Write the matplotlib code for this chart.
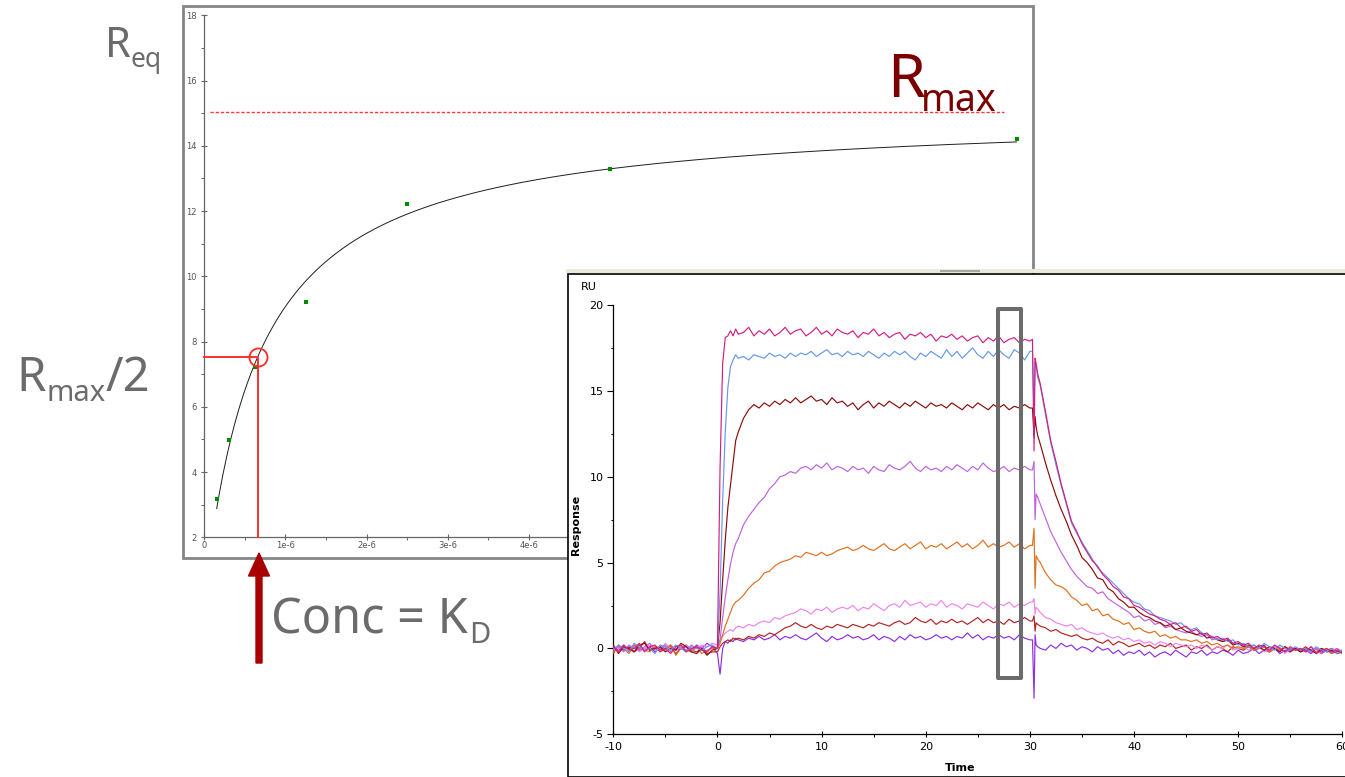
import numpy as np
import matplotlib
matplotlib.use("Agg")
import matplotlib.pyplot as plt
from matplotlib.patches import Rectangle, FancyArrow
from matplotlib.ticker import MultipleLocator, FixedLocator, FixedFormatter

plt.rcParams["axes.unicode_minus"] = False

# ---------------- steady-state affinity data ----------------
conc_M = [0.15625e-6, 0.3125e-6, 0.625e-6, 1.25e-6, 2.5e-6, 5.0e-6, 10.0e-6]
req_RU = [3.18, 4.99, 7.22, 9.20, 12.22, 13.30, 14.21]
r_max = 15.05
k_d = 0.66e-6
aff_xticks = [0, 1e-6, 2e-6, 3e-6, 4e-6, 5e-6, 6e-6, 7e-6, 8e-6, 9e-6, 10e-6]
aff_xlabels = ["0", "1e-6", "2e-6", "3e-6", "4e-6", "5e-6", "6e-6", "7e-6", "8e-6", "9e-6", "1e-5"]

# ---------------- sensorgram data ----------------
base_t = np.arange(-10, 0, 0.5)
assoc_t = np.concatenate([[0, 0.25, 0.5, 0.75, 1, 1.25, 1.5, 1.75, 2], np.arange(2.5, 30.01, 0.5)])
dissoc_t = np.concatenate([[30.25, 30.4, 30.5, 30.6, 30.75], np.arange(31, 60.01, 0.5)])
time_s = np.concatenate([base_t, assoc_t, dissoc_t])

resp_c8 = [
    0.1, -0.2, 0.2, -0.1, 0.0, 0.3, -0.2, 0.1, 0.2, -0.1,
    0.0, -0.3, 0.1, 0.2, -0.2, 0.0, 0.1, -0.1, -0.2, 0.1,
    0.0, 10.5, 16.6, 18.1, 18.2, 18.5, 18.2, 18.6, 18.3,
    18.4, 18.7, 18.2, 18.5, 18.3, 18.6, 18.2, 18.4, 18.7, 18.3,
    18.5, 18.6, 18.2, 18.4, 18.7, 18.3, 18.5, 18.2, 18.6, 18.4,
    18.3, 18.5, 18.1, 18.4, 18.3, 18.6, 18.2, 18.4, 18.1, 18.3,
    18.4, 18.0, 18.3, 18.2, 18.4, 18.1, 18.3, 17.9, 18.2, 18.1,
    18.3, 18.0, 18.2, 17.9, 18.1, 18.2, 17.8, 18.1, 17.9, 18.2,
    17.8, 18.0, 18.1, 17.8, 18.0, 17.9,
    18.0, 11.5, 16.9, 16.6, 16.0,
    15.4, 13.8, 12.1, 10.9, 9.6, 8.5, 7.4, 6.8, 6.1, 5.6,
    5.1, 4.8, 4.3, 4.0, 3.6, 3.4, 3.0, 2.9, 2.5, 2.4,
    2.2, 2.0, 1.9, 1.7, 1.6, 1.4, 1.5, 1.2, 1.3, 1.0,
    1.1, 0.8, 0.9, 0.6, 0.7, 0.5, 0.6, 0.3, 0.4, 0.2,
    0.3, 0.0, 0.2, 0.1, -0.1, 0.2, 0.0, -0.2, 0.1, -0.1,
    0.0, -0.2, 0.1, -0.3, -0.1, 0.0, -0.2, -0.1, -0.3,
]
resp_c7 = [
    -0.1, 0.2, 0.0, -0.2, 0.3, 0.1, -0.1, 0.0, -0.3, 0.2,
    0.1, -0.1, 0.2, 0.0, -0.2, 0.1, 0.0, -0.1, 0.1, 0.2,
    0.0, 3.2, 8.6, 12.6, 15.2, 16.4, 16.8, 17.1, 16.9,
    17.0, 16.8, 17.1, 17.0, 16.9, 17.2, 17.0, 17.1, 16.9, 17.2,
    17.0, 17.2, 17.1, 17.3, 17.0, 17.2, 17.4, 17.1, 17.2, 17.0,
    17.3, 17.1, 17.2, 17.0, 17.3, 17.1, 16.9, 17.2, 17.0, 17.3,
    17.1, 17.3, 17.0, 16.8, 17.2, 17.0, 17.3, 17.1, 16.9, 17.4,
    17.0, 17.3, 16.9, 17.2, 17.5, 17.1, 16.9, 17.3, 17.0, 17.4,
    17.1, 16.9, 17.4, 17.2, 16.8, 17.3,
    17.3, 13.5, 16.7, 16.4, 15.8,
    15.3, 13.6, 12.0, 10.7, 9.5, 8.4, 7.3, 6.7, 6.2, 5.7,
    5.2, 4.7, 4.4, 4.1, 3.8, 3.5, 3.2, 2.9, 2.7, 2.6,
    2.3, 2.2, 1.9, 1.8, 1.7, 1.6, 1.4, 1.5, 1.2, 1.1,
    1.2, 0.9, 0.8, 0.7, 0.5, 0.6, 0.4, 0.5, 0.2, 0.3,
    0.1, 0.2, 0.0, 0.3, 0.1, -0.1, 0.2, 0.0, -0.1, 0.1,
    -0.1, 0.0, -0.2, 0.1, -0.1, -0.2, 0.0, -0.3, -0.1,
]
resp_c6 = [
    0.2, -0.3, 0.1, 0.0, -0.2, 0.2, 0.3, -0.1, 0.0, 0.1,
    -0.2, 0.0, -0.1, 0.3, 0.1, -0.2, -0.3, 0.0, -0.4, -0.1,
    0.0, 1.5, 4.0, 6.3, 8.2, 9.5, 10.8, 12.1, 12.6,
    13.4, 13.9, 14.2, 14.0, 14.3, 14.1, 14.4, 14.2, 14.5, 14.3,
    14.6, 14.3, 14.5, 14.7, 14.4, 14.5, 14.2, 14.6, 14.3, 14.4,
    14.1, 14.3, 13.9, 14.2, 14.4, 14.0, 14.3, 14.1, 14.4, 14.2,
    14.0, 14.3, 14.1, 14.4, 14.2, 14.0, 14.3, 14.1, 14.2, 14.0,
    14.3, 14.1, 13.9, 14.2, 14.0, 14.3, 14.1, 13.9, 14.2, 14.0,
    14.2, 13.9, 14.1, 14.0, 14.2, 14.0,
    14.0, 12.3, 13.5, 12.9, 12.4,
    11.9, 10.8, 9.8, 8.9, 8.1, 7.4, 6.6, 6.0, 5.3, 5.0,
    4.6, 4.1, 4.0, 3.5, 3.3, 2.9, 2.7, 2.4, 2.4, 2.1,
    1.9, 1.8, 1.6, 1.5, 1.3, 1.4, 1.1, 1.2, 1.0, 0.9,
    0.8, 0.9, 0.6, 0.7, 0.5, 0.4, 0.5, 0.2, 0.3, 0.1,
    0.2, 0.0, 0.1, -0.1, 0.1, 0.0, -0.2, 0.1, -0.1, 0.0,
    -0.2, 0.0, -0.1, -0.3, 0.0, -0.2, -0.1, -0.3, -0.2,
]
resp_c5 = [
    0.0, 0.1, -0.2, 0.2, 0.0, -0.1, 0.1, 0.3, -0.1, 0.0,
    0.2, -0.2, 0.0, 0.1, -0.1, 0.2, 0.0, 0.1, -0.2, 0.1,
    0.0, 0.5, 1.8, 3.0, 4.0, 4.9, 5.6, 6.1, 6.4,
    7.2, 7.7, 8.1, 8.5, 8.8, 9.3, 9.6, 10.0, 10.1, 10.3,
    10.2, 10.5, 10.6, 10.4, 10.7, 10.5, 10.8, 10.4, 10.6, 10.5,
    10.3, 10.6, 10.4, 10.5, 10.2, 10.6, 10.4, 10.3, 10.7, 10.5,
    10.4, 10.6, 10.9, 10.5, 10.3, 10.6, 10.4, 10.5, 10.3, 10.6,
    10.4, 10.7, 10.5, 10.3, 10.6, 10.4, 10.8, 10.5, 10.3, 10.4,
    10.6, 10.3, 10.5, 10.4, 10.6, 10.4,
    10.4, 10.9, 7.5, 9.0, 8.8,
    8.4, 7.6, 6.8, 6.2, 5.6, 5.1, 4.6, 4.2, 3.9, 3.6,
    3.5, 3.2, 3.3, 2.9, 2.7, 2.5, 2.3, 2.1, 1.8, 1.9,
    1.6, 1.7, 1.4, 1.5, 1.2, 1.3, 1.1, 1.0, 0.9, 1.0,
    0.8, 0.7, 0.8, 0.5, 0.6, 0.4, 0.5, 0.3, 0.3, 0.2,
    0.1, 0.2, 0.0, 0.1, -0.1, 0.1, 0.0, -0.2, 0.0, -0.1,
    0.0, -0.2, -0.1, 0.0, -0.3, -0.1, -0.2, 0.0, -0.2,
]
resp_c4 = [
    -0.2, 0.1, 0.0, -0.3, 0.2, 0.0, -0.1, -0.2, 0.1, 0.0,
    -0.1, 0.2, -0.4, 0.0, -0.1, -0.2, 0.1, -0.3, -0.1, 0.0,
    0.0, 0.3, 0.8, 1.3, 1.7, 2.1, 2.5, 2.7, 2.8,
    3.1, 3.5, 3.8, 4.0, 4.4, 4.5, 4.8, 5.0, 5.1, 5.2,
    5.4, 5.3, 5.6, 5.5, 5.4, 5.6, 5.4, 5.5, 5.7, 5.8,
    5.9, 5.7, 5.8, 6.0, 5.8, 5.7, 5.9, 6.1, 5.8, 5.7,
    5.9, 6.1, 5.8, 6.0, 6.2, 5.8, 6.0, 5.9, 6.1, 5.8,
    6.0, 6.2, 5.9, 6.1, 5.8, 6.0, 6.3, 5.9, 6.1, 5.9,
    6.0, 6.2, 5.9, 6.1, 5.8, 6.0,
    6.0, 7.0, 3.5, 5.4, 5.2,
    5.0, 4.4, 4.0, 3.7, 3.6, 3.4, 3.0, 2.8, 2.5, 2.6,
    2.2, 2.3, 1.9, 2.0, 1.7, 1.6, 1.4, 1.5, 1.1, 1.2,
    1.0, 0.9, 1.0, 0.7, 0.8, 0.6, 0.7, 0.5, 0.5, 0.4,
    0.5, 0.3, 0.4, 0.2, 0.3, 0.1, 0.2, 0.0, 0.1, 0.0,
    0.1, -0.1, 0.0, 0.1, -0.2, 0.0, -0.1, 0.1, -0.1, 0.0,
    -0.2, 0.0, -0.1, -0.2, 0.0, -0.1, -0.3, -0.1, -0.2,
]
resp_c3 = [
    0.1, 0.0, 0.2, -0.1, 0.1, -0.2, 0.0, 0.2, 0.1, -0.1,
    0.3, 0.0, -0.1, 0.1, 0.2, -0.1, 0.0, 0.2, 0.1, 0.3,
    0.2, 0.5, 0.7, 0.9, 1.0, 1.1, 1.0, 1.2, 1.3,
    1.2, 1.4, 1.3, 1.5, 1.6, 1.5, 1.8, 1.7, 1.9, 2.0,
    2.1, 2.3, 2.2, 2.0, 2.3, 2.2, 2.4, 2.1, 2.3, 2.4,
    2.3, 2.5, 2.2, 2.4, 2.3, 2.6, 2.4, 2.2, 2.5, 2.6,
    2.4, 2.8, 2.5, 2.6, 2.7, 2.4, 2.6, 2.5, 2.8, 2.4,
    2.6, 2.5, 2.3, 2.6, 2.5, 2.4, 2.7, 2.5, 2.3, 2.6,
    2.5, 2.7, 2.4, 2.6, 2.5, 2.7,
    2.7, 2.9, 2.0, 2.4, 2.3,
    2.1, 1.8, 1.7, 1.5, 1.4, 1.3, 1.4, 1.1, 1.2, 1.0,
    0.9, 0.8, 0.9, 0.7, 0.6, 0.7, 0.5, 0.6, 0.4, 0.5,
    0.3, 0.4, 0.2, 0.4, 0.3, 0.1, 0.3, 0.2, 0.1, 0.2,
    0.0, 0.2, 0.1, -0.1, 0.1, 0.0, 0.2, -0.1, 0.0, 0.1,
    -0.1, 0.0, 0.1, -0.2, 0.0, -0.1, 0.1, -0.3, 0.0, -0.1,
    0.0, -0.2, 0.1, -0.1, 0.0, -0.2, -0.1, 0.0, -0.2,
]
resp_c2 = [
    -0.3, 0.2, -0.1, 0.1, -0.2, 0.0, 0.4, -0.1, 0.1, -0.2,
    0.0, 0.1, -0.3, 0.0, 0.2, -0.1, -0.2, 0.0, -0.3, -0.2,
    -0.2, 0.1, 0.3, 0.4, 0.5, 0.4, 0.6, 0.5, 0.6,
    0.5, 0.7, 0.6, 0.8, 0.7, 0.9, 0.8, 1.0, 1.2, 1.3,
    1.5, 1.3, 1.2, 1.4, 1.2, 1.1, 1.3, 1.2, 1.4, 1.3,
    1.2, 1.4, 1.3, 1.2, 1.4, 1.3, 1.5, 1.4, 1.3, 1.5,
    1.6, 1.4, 1.5, 1.8, 1.6, 1.5, 1.7, 1.4, 1.6, 1.5,
    1.7, 1.5, 1.6, 1.4, 1.6, 1.8, 1.5, 1.7, 1.5, 1.6,
    1.4, 1.7, 1.5, 1.6, 1.8, 1.6,
    1.6, 1.9, 1.0, 1.5, 1.4,
    1.3, 1.2, 1.0, 1.1, 0.9, 0.8, 0.7, 0.8, 0.6, 0.5,
    0.6, 0.4, 0.3, 0.5, 0.2, 0.4, 0.3, 0.1, 0.2, 0.3,
    0.1, 0.2, 0.0, 0.2, 0.1, 0.3, 0.0, 0.1, 0.2, -0.1,
    0.1, 0.0, 0.2, -0.1, 0.1, 0.0, -0.2, 0.1, 0.0, -0.1,
    0.1, -0.1, 0.0, 0.2, -0.2, 0.0, -0.1, 0.1, -0.2, 0.0,
    -0.1, 0.1, -0.2, 0.0, -0.3, -0.1, 0.0, -0.2, -0.1,
]
resp_c1 = [
    0.0, -0.1, 0.1, 0.0, 0.2, -0.1, 0.0, 0.1, -0.2, 0.1,
    0.0, 0.2, -0.1, 0.0, 0.1, -0.1, 0.2, 0.0, 0.3, 0.1,
    -0.3, -1.5, 0.0, 0.4, 0.3, 0.5, 0.4, 0.6, 0.5,
    0.4, 0.6, 0.5, 0.7, 0.5, 0.6, 0.8, 0.5, 0.7, 0.6,
    0.8, 0.6, 0.5, 0.7, 0.9, 0.6, 0.4, 0.7, 0.5, 0.6,
    0.8, 0.6, 0.7, 0.5, 0.6, 0.8, 0.5, 0.7, 0.6, 0.4,
    0.7, 0.5, 0.8, 0.6, 0.7, 0.5, 0.6, 0.8, 0.6, 0.7,
    0.5, 0.7, 0.6, 0.9, 0.6, 0.8, 0.5, 0.7, 0.6, 0.8,
    0.6, 0.7, 0.5, 0.8, 0.6, 0.5,
    0.5, -2.9, 0.8, 0.2, 0.1,
    0.0, -0.1, 0.2, 0.0, 0.3, 0.1, 0.2, -0.1, 0.1, 0.0,
    -0.2, 0.1, -0.1, 0.0, -0.3, -0.1, -0.4, -0.2, -0.3, -0.1,
    -0.4, -0.2, -0.5, -0.3, -0.2, -0.4, -0.1, -0.3, -0.5, -0.2,
    -0.3, -0.1, -0.4, -0.2, -0.3, -0.1, -0.2, -0.4, -0.1, -0.3,
    -0.2, 0.0, -0.3, -0.1, -0.2, 0.0, -0.3, -0.1, -0.2, 0.0,
    -0.2, -0.1, -0.3, 0.0, -0.2, -0.1, -0.3, -0.1, -0.2,
]
sensor_series = [resp_c1, resp_c2, resp_c3, resp_c4, resp_c5, resp_c6, resp_c7, resp_c8]
sensor_colors = ["#8e2ee6", "#b42222", "#ee84ee", "#e0701e", "#c062de", "#8c0c0c", "#6797ec", "#d21f82"]

# ---------------- figure ----------------
W, H = 1345, 777
fig = plt.figure(figsize=(W / 100, H / 100), dpi=100)
fig.patch.set_facecolor("white")


def fx(x):
    return x / W


def fy(y):
    return 1 - y / H


# frame around the affinity plot
fig.add_artist(Rectangle((fx(183), fy(558)), (1033 - 183) / W, (558 - 6) / H,
                         transform=fig.transFigure, fill=False, ec="#858585",
                         lw=2.0, zorder=0.5))

# ---- affinity (Req vs concentration) plot ----
ax1 = fig.add_axes([fx(204), fy(537.3), 824.7 / W, (537.3 - 15.3) / H], zorder=1)
ax1.patch.set_alpha(0)
ax1.set_xlim(0, 10.15e-6)
ax1.set_ylim(2, 18)
for s in ("top", "right"):
    ax1.spines[s].set_visible(False)
for s in ("left", "bottom"):
    ax1.spines[s].set_color("#666666")
    ax1.spines[s].set_linewidth(0.9)
ax1.yaxis.set_major_locator(FixedLocator(list(range(2, 19, 2))))
ax1.yaxis.set_minor_locator(MultipleLocator(1))
ax1.xaxis.set_major_locator(FixedLocator(aff_xticks))
ax1.xaxis.set_major_formatter(FixedFormatter(aff_xlabels))
ax1.xaxis.set_minor_locator(MultipleLocator(0.5e-6))
ax1.tick_params(which="major", direction="inout", length=4.5, width=0.8,
                color="#666666", labelsize=6, labelcolor="#555555")
ax1.tick_params(which="minor", direction="out", length=2, width=0.7, color="#666666")
ax1.tick_params(axis="y", which="major", pad=3)
ax1.tick_params(axis="x", which="major", pad=0.5)

c_fit = np.linspace(conc_M[0], conc_M[-1], 400)
ax1.plot(c_fit, r_max * c_fit / (k_d + c_fit), color="#1e1e1e", lw=0.7, zorder=3)
ax1.plot(conc_M, req_RU, "s", color="#008a00", ms=2.8, mew=0, zorder=4)
ax1.plot([0.07e-6, 9.85e-6], [r_max, r_max], color="#ff3b3b", lw=1.0,
         ls=(0, (2.4, 1.3)), zorder=3)
ax1.plot([0, k_d, k_d], [r_max / 2, r_max / 2, 2], color="#ff3030", lw=1.4,
         clip_on=False, zorder=5)
ax1.plot([k_d], [r_max / 2], "o", mfc="none", mec="#ff2a2a", ms=13, mew=1.3, zorder=6)

# ---- sensorgram window ----
fig.add_artist(Rectangle((fx(568), fy(776.5)), (1352 - 568) / W, (776.5 - 273.5) / H,
                         transform=fig.transFigure, fc="white", ec="black",
                         lw=1.2, zorder=2))
fig.add_artist(Rectangle((fx(566), fy(273)), (1352 - 566) / W, 4 / H,
                         transform=fig.transFigure, fc="#ece9d8", ec="none", zorder=2.1))
fig.add_artist(Rectangle((fx(940), fy(272)), 40 / W, 2.5 / H,
                         transform=fig.transFigure, fc="#a8a8a8", ec="none", zorder=2.2))

ax2 = fig.add_axes([fx(613.3), fy(734.3), 729 / W, (734.3 - 305) / H], zorder=3)
ax2.patch.set_alpha(0)
ax2.set_xlim(-10, 60)
ax2.set_ylim(-5, 20)
for s in ("top", "right"):
    ax2.spines[s].set_visible(False)
for s in ("left", "bottom"):
    ax2.spines[s].set_linewidth(0.9)
ax2.xaxis.set_major_locator(MultipleLocator(10))
ax2.xaxis.set_minor_locator(MultipleLocator(5))
ax2.yaxis.set_major_locator(MultipleLocator(5))
ax2.yaxis.set_minor_locator(MultipleLocator(2.5))
ax2.tick_params(axis="x", which="major", direction="inout", length=4.5, width=0.8,
                labelsize=8, pad=3)
ax2.tick_params(axis="y", which="major", direction="out", length=4, width=0.8,
                labelsize=8, pad=3)
ax2.tick_params(which="minor", direction="out", length=1.8, width=0.7)

for vals, col in zip(sensor_series, sensor_colors):
    if len(vals) != len(time_s):
        raise ValueError(f"series length {len(vals)} != {len(time_s)}")
    ax2.plot(time_s, vals, color=col, lw=0.85, zorder=3)

ax2.add_patch(Rectangle((26.98, -1.73), 2.17, 21.47, fill=False, ec="#6b6b6b",
                        lw=2.9, joinstyle="round", zorder=6))

fig.text(fx(589), fy(287), "RU", ha="center", va="center", fontsize=8, zorder=4)
fig.text(fx(576), fy(525), "Response", rotation=90, ha="center", va="center",
         fontsize=8, fontweight="bold", zorder=4)
fig.text(fx(960), fy(768), "Time", ha="center", va="center",
         fontsize=8, fontweight="bold", zorder=4)

# ---- annotations ----
gray = "#6b6b6b"
dark_red = "#7a0000"
ann = dict(family="Noto Sans", ha="left", va="baseline", zorder=5)
fig.text(fx(105), fy(57), "R", fontsize=30, color=gray, **ann)
fig.text(fx(130), fy(67), "eq", fontsize=19, color=gray, **ann)
fig.text(fx(16), fy(391), "R", fontsize=34, color=gray, **ann)
fig.text(fx(47), fy(401), "max", fontsize=21, color=gray, **ann)
fig.text(fx(106), fy(391), "/2", fontsize=34, color=gray, **ann)
fig.text(fx(271), fy(633), "Conc = K", fontsize=35, color=gray, **ann)
fig.text(fx(469), fy(643), "D", fontsize=21, color=gray, **ann)
fig.text(fx(887), fy(97), "R", fontsize=44, color=dark_red, **ann)
fig.text(fx(921), fy(111), "max", fontsize=27, color=dark_red, **ann)

fig.add_artist(FancyArrow(fx(259), fy(663), 0, fy(553) - fy(663), width=6 / W,
                          head_width=21 / W, head_length=23 / H,
                          length_includes_head=True, transform=fig.transFigure,
                          color="#a80000", zorder=5))

fig.savefig("out.png", dpi=100, facecolor="white")
